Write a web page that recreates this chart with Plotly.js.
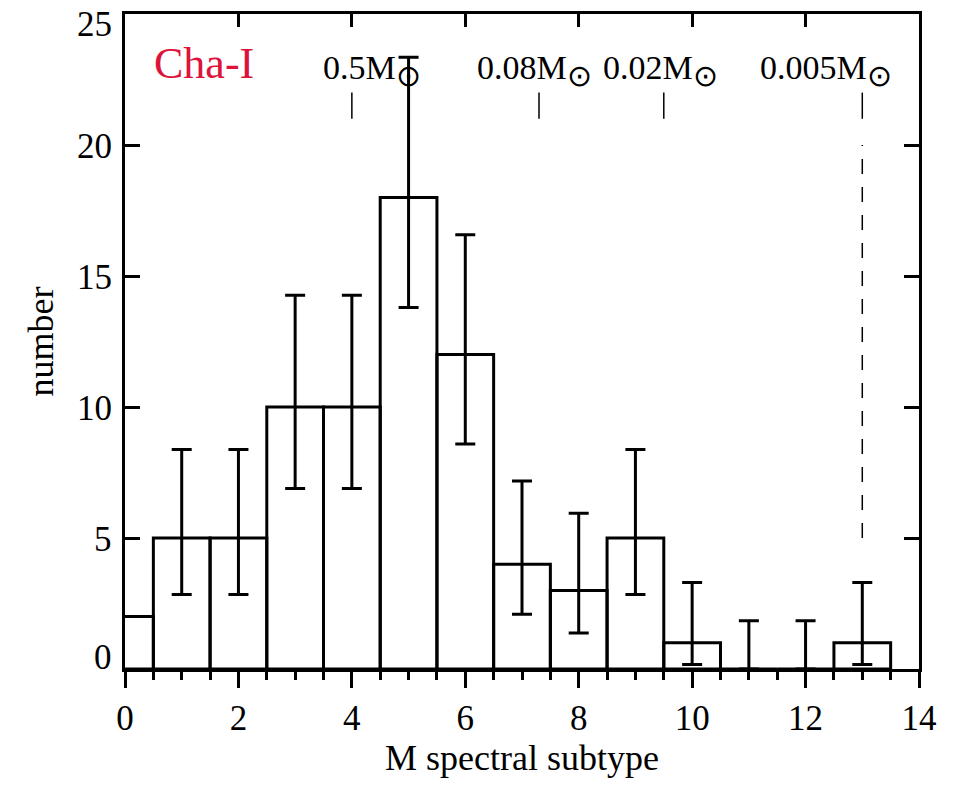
<!DOCTYPE html>
<html><head><meta charset="utf-8">
<script src="https://cdn.plot.ly/plotly-3.0.1.min.js"></script>
<style>html,body{margin:0;padding:0;background:#fff}</style>
</head><body><div id="chart" style="width:959px;height:786px"></div>
<script>
// ---- data ----
const subtypes   = [0, 1, 2, 3, 4, 5, 6, 7, 8, 9, 10, 11, 12, 13];
const counts     = [2, 5, 5, 10, 10, 18, 12, 4, 3, 5, 1, 0, 0, 1];
const upperLimit = [null, 8.38, 8.38, 14.27, 14.27, 23.35, 16.57, 7.18, 5.94, 8.38, 3.30, 1.84, 1.84, 3.30];
const lowerLimit = [null, 2.84, 2.84, 6.89, 6.89, 13.80, 8.59, 2.09, 1.37, 2.84, 0.17, 0, 0, 0.17];
const massSubtype = [4, 7.3, 9.5, 13];
const massValues  = ['0.5', '0.08', '0.02', '0.005'];
const xTicks = [0, 2, 4, 6, 8, 10, 12, 14];
const yTicks = [0, 5, 10, 15, 20, 25];
const yTickText = ['0', '5', '10', '15', '20', '25'];
const regionLabel = 'Cha-I';

// ---- derived ----
const errPlus  = counts.map((c, i) => upperLimit[i] == null ? NaN : upperLimit[i] - c);
const errMinus = counts.map((c, i) => lowerLimit[i] == null ? NaN : c - lowerLimit[i]);

const markX = [], markY = [];
massSubtype.forEach(m => { markX.push(m, m, null); markY.push(21, 22, null); });

const FONT = '"Liberation Serif", "Times New Roman", Times, serif';
const labelShift = [20, -5, -3, -36];
const yLabelShift = {0: 12, 25: -10};

const traces = [
  {
    type: 'bar', x: subtypes, y: counts, width: 1,
    marker: {color: 'rgba(255,255,255,0)', line: {color: '#000', width: 3}},
    error_y: {type: 'data', symmetric: false, array: errPlus, arrayminus: errMinus,
              color: '#000', thickness: 3, width: 10},
    hoverinfo: 'skip', showlegend: false
  },
  {
    type: 'scatter', mode: 'lines', x: markX, y: markY, xaxis: 'x2',
    line: {color: '#000', width: 1.5}, hoverinfo: 'skip', showlegend: false
  }
];

const annotations = massValues.map((v, i) => ({
  x: massSubtype[i], y: 22.55, xref: 'x', yref: 'y', yshift: 8,
  text: v + 'M<sub><span style="font-size:30px">⊙</span></sub>', showarrow: false,
  xanchor: 'center', yanchor: 'middle', xshift: labelShift[i],
  font: {family: FONT, size: 34, color: '#000'}
}));
annotations.push({
  x: 1.4, y: 23.1, xref: 'x', yref: 'y', text: regionLabel, showarrow: false,
  xanchor: 'center', yanchor: 'middle',
  font: {family: FONT, size: 44, color: '#DC143C'}
});
yTicks.forEach((v, i) => annotations.push({
  x: 0, y: v, xref: 'paper', yref: 'y', text: yTickText[i], showarrow: false,
  xanchor: 'right', yanchor: 'middle', xshift: -11, yshift: (yLabelShift[v] || -1),
  font: {family: FONT, size: 35, color: '#000'}
}));

const layout = {
  width: 959, height: 786,
  margin: {l: 125, r: 40, t: 14, b: 117},
  paper_bgcolor: '#fff', plot_bgcolor: '#fff',
  font: {family: FONT, color: '#000'},
  bargap: 0,
  xaxis: {
    range: [0, 14], tickvals: xTicks, ticks: 'outside', ticklen: 16, tickwidth: 3, tickcolor: '#000',
    showline: true, linewidth: 3, linecolor: '#000', mirror: true,
    showgrid: false, zeroline: false,
    minor: {dtick: 0.5, tick0: 0, ticks: 'outside', ticklen: 8, tickwidth: 3, tickcolor: '#000', showgrid: false},
    tickfont: {family: FONT, size: 35, color: '#000'},
    title: {text: 'M spectral subtype', font: {family: FONT, size: 36, color: '#000'}, standoff: 6}
  },
  xaxis2: {
    range: [0, 14], overlaying: 'x', side: 'top', anchor: 'y', tickvals: xTicks,
    ticks: 'inside', ticklen: 13, tickwidth: 3, tickcolor: '#000',
    showticklabels: false, showline: true, linewidth: 3, linecolor: '#000',
    showgrid: false, zeroline: false
  },
  yaxis: {
    range: [0, 25], tickvals: yTicks, ticks: 'inside', ticklen: 15, tickwidth: 3, tickcolor: '#000',
    showline: true, linewidth: 3, linecolor: '#000', mirror: 'ticks',
    showgrid: false, zeroline: false, showticklabels: false,
    title: {text: 'number', font: {family: FONT, size: 36, color: '#000'}, standoff: 58}
  },
  shapes: [{
    type: 'line', xref: 'x', yref: 'y', x0: massSubtype[3], x1: massSubtype[3], y0: 5, y1: 20,
    line: {color: '#000', width: 1.5, dash: '15px,13px'}
  }],
  annotations: annotations
};

Plotly.newPlot('chart', traces, layout, {displayModeBar: false, staticPlot: true});
</script></body></html>
